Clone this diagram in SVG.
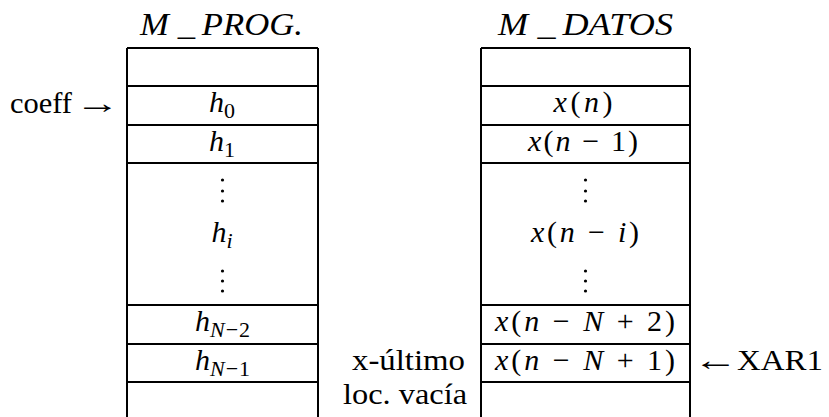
<svg xmlns="http://www.w3.org/2000/svg" width="829" height="417" viewBox="0 0 829 417">
<style>
.ln{stroke:#000;stroke-width:2;fill:none}
text{font-family:'Liberation Serif','DejaVu Serif',serif;font-size:30px;fill:#000}
.m{font-style:italic}
.r{font-style:normal}
.c{text-anchor:middle}
.s{font-size:22px}
.t{font-size:31px}
.dot{fill:#000}
</style>
<rect width="829" height="417" fill="#fff"/>

<g id="mprog">
  <text class="m c t" x="221.5" y="35" textLength="163" lengthAdjust="spacingAndGlyphs">M<tspan class="r" dx="8">_</tspan><tspan dx="6">PROG.</tspan></text>
  <path class="ln" d="M127,48V417M318,48V417M127,48H318M127,86H318M127,125H318M127,163H318M127,305H318M127,344H318M127,382H318"/>
  <g id="h0"><text class="m c" x="222" y="112">h<tspan class="r s" dy="6">0</tspan></text></g>
  <g id="h1"><text class="m c" x="222" y="151">h<tspan class="r s" dy="6">1</tspan></text></g>
  <g id="hi">
    <circle class="dot" cx="222.5" cy="180" r="1.6"/><circle class="dot" cx="222.5" cy="191" r="1.6"/><circle class="dot" cx="222.5" cy="201" r="1.6"/>
    <text class="m c" x="222" y="242">h<tspan class="s" dy="6">i</tspan></text>
    <circle class="dot" cx="222.5" cy="271" r="1.6"/><circle class="dot" cx="222.5" cy="281" r="1.6"/><circle class="dot" cx="222.5" cy="291" r="1.6"/>
  </g>
  <g id="hN2"><text class="m c" x="222.5" y="331">h<tspan class="s" dy="6">N</tspan><tspan class="r s" dx="1">−</tspan><tspan class="r s" dx="1">2</tspan></text></g>
  <g id="hN1"><text class="m c" x="222.5" y="370">h<tspan class="s" dy="6">N</tspan><tspan class="r s" dx="1">−</tspan><tspan class="r s" dx="1">1</tspan></text></g>
</g>

<g id="mdatos">
  <text class="m c t" x="585.5" y="35" textLength="175" lengthAdjust="spacingAndGlyphs">M<tspan class="r" dx="8">_</tspan><tspan dx="6">DATOS</tspan></text>
  <path class="ln" d="M481,48V417M690,48V417M481,48H690M481,86H690M481,125H690M481,163H690M481,305H690M481,344H690M481,382H690"/>
  <g id="xn"><text class="c" x="583" y="112" textLength="59" lengthAdjust="spacing"><tspan class="m">x</tspan>(<tspan class="m">n</tspan>)</text></g>
  <g id="xn1"><text class="c" x="583" y="151" textLength="110" lengthAdjust="spacing"><tspan class="m">x</tspan>(<tspan class="m">n</tspan> − 1)</text></g>
  <g id="xni">
    <circle class="dot" cx="585.5" cy="180" r="1.6"/><circle class="dot" cx="585.5" cy="191" r="1.6"/><circle class="dot" cx="585.5" cy="201" r="1.6"/>
    <text class="c" x="585" y="242" textLength="108" lengthAdjust="spacing"><tspan class="m">x</tspan>(<tspan class="m">n</tspan> − <tspan class="m">i</tspan>)</text>
    <circle class="dot" cx="585.5" cy="271" r="1.6"/><circle class="dot" cx="585.5" cy="281" r="1.6"/><circle class="dot" cx="585.5" cy="291" r="1.6"/>
  </g>
  <g id="xnN2"><text class="c" x="585" y="331" textLength="180" lengthAdjust="spacing"><tspan class="m">x</tspan>(<tspan class="m">n</tspan> − <tspan class="m">N</tspan> + 2)</text></g>
  <g id="xnN1"><text class="c" x="585" y="370" textLength="180" lengthAdjust="spacing"><tspan class="m">x</tspan>(<tspan class="m">n</tspan> − <tspan class="m">N</tspan> + 1)</text></g>
</g>

<g id="labels">
  <text id="coeff" x="10" y="113" textLength="62" lengthAdjust="spacingAndGlyphs">coeff</text>
  <text id="coeff-arrow" transform="translate(75,113) scale(1.5,1)" x="0" y="0">→</text>
  <text id="xultimo" x="352" y="370" textLength="113" lengthAdjust="spacingAndGlyphs">x-último</text>
  <text id="locvacia" x="343" y="404" textLength="124" lengthAdjust="spacingAndGlyphs">loc. vacía</text>
  <text id="xar1-arrow" transform="translate(693,370) scale(1.5,1)" x="0" y="0">←</text>
  <text id="xar1" x="737" y="370" textLength="86" lengthAdjust="spacingAndGlyphs">XAR1</text>
</g>
</svg>
